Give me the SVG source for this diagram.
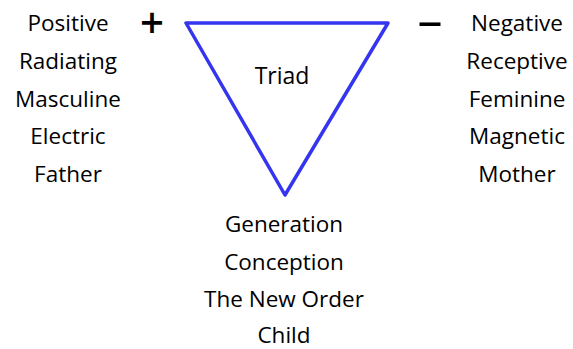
<svg xmlns="http://www.w3.org/2000/svg" width="573" height="349" viewBox="0 0 573 349">
<style>
text{font-family:"Open Sans","Liberation Sans",sans-serif;font-size:22.5px;fill:#000;text-anchor:middle}
.sign{font-weight:600;font-size:42px}
.tri{fill:#fff;stroke:#3535f0;stroke-width:3.5;stroke-linejoin:round}
</style>
<rect width="573" height="349" fill="#fff"/>
<g id="triad">
<polygon class="tri" points="186,23 388,23 285,195"/>
<text x="282" y="84" style="font-size:23px">Triad</text>
</g>
<g id="positive">
<text x="68" y="31">Positive</text>
<text x="68" y="69">Radiating</text>
<text x="68" y="107">Masculine</text>
<text x="68" y="144">Electric</text>
<text x="68" y="182">Father</text>
<text class="sign" x="152" y="38">+</text>
</g>
<g id="negative">
<text x="517" y="31">Negative</text>
<text x="517" y="69">Receptive</text>
<text x="517" y="107">Feminine</text>
<text x="517" y="144">Magnetic</text>
<text x="517" y="182">Mother</text>
<text class="sign" x="430" y="38" style="font-size:50px;font-weight:normal">–</text>
</g>
<g id="child">
<text x="284" y="232">Generation</text>
<text x="284" y="270">Conception</text>
<text x="284" y="307">The New Order</text>
<text x="284" y="343">Child</text>
</g>
<g id="connectors"></g>
</svg>
